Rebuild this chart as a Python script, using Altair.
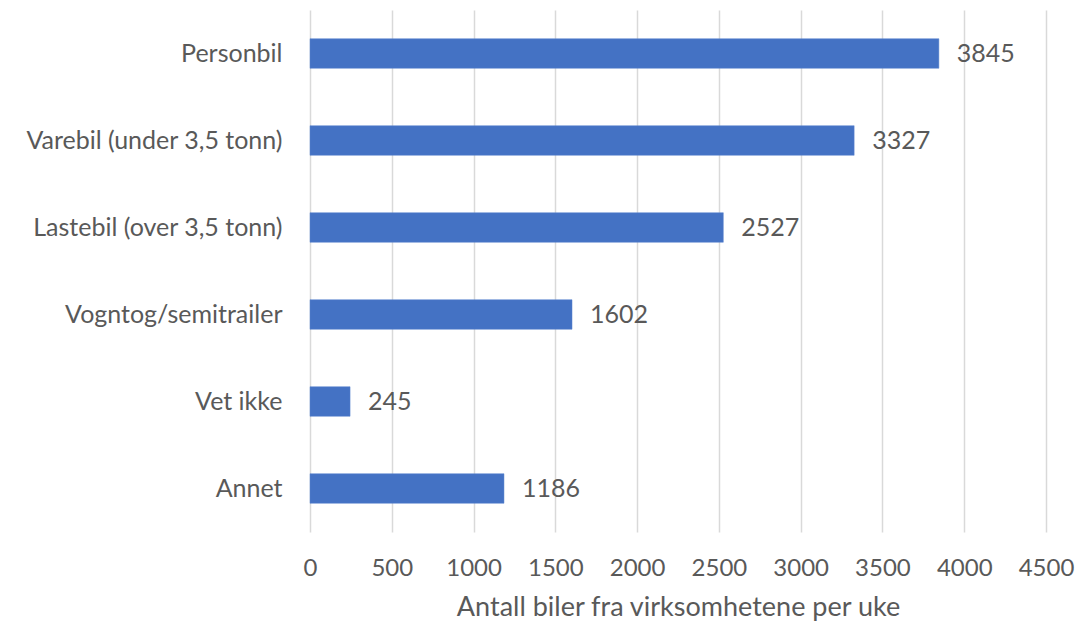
import altair as alt
import pandas as pd

categories = ["Personbil", "Varebil (under 3,5 tonn)", "Lastebil (over 3,5 tonn)",
              "Vogntog/semitrailer", "Vet ikke", "Annet"]
values = [3845, 3327, 2527, 1602, 245, 1186]
x_ticks = [0, 500, 1000, 1500, 2000, 2500, 3000, 3500, 4000, 4500]

df = pd.DataFrame({"kategori": categories, "antall": values})

FONT = "Lato"
TXT = "#595959"

y_enc = alt.Y("kategori:N", sort=categories, title=None,
              scale=alt.Scale(paddingInner=0.66, paddingOuter=0.33),
              axis=alt.Axis(labelFontSize=25, labelColor=TXT, labelFont=FONT,
                            labelPadding=28, ticks=False, domain=False, grid=False,
                            labelLimit=400))

bars = alt.Chart(df).mark_bar(color="#4472C4", stroke="#5b85cf", strokeWidth=0.5).encode(
    x=alt.X("antall:Q", scale=alt.Scale(domain=[0, 4500], nice=False),
            title="Antall biler fra virksomhetene per uke",
            axis=alt.Axis(values=x_ticks, format="d", labelFlush=False,
                          labelFontSize=24, labelColor=TXT, labelFont=FONT,
                          titleFontSize=27, titleColor=TXT, titleFont=FONT,
                          titleFontWeight="normal", labelPadding=24, titlePadding=14,
                          ticks=False, domain=False, grid=True, gridColor="#d9d9d9",
                          gridWidth=1.5)),
    y=y_enc,
)

labels = alt.Chart(df).mark_text(align="left", baseline="middle", dx=18, fontSize=25,
                                 color=TXT, font=FONT).encode(
    x="antall:Q",
    y=alt.Y("kategori:N", sort=categories),
    text="antall:Q",
)

chart = (bars + labels).properties(
    width=736, height=522,
    background="white",
    autosize=alt.AutoSizeParams(type="none"),
    padding={"left": 310, "top": 10, "right": 35, "bottom": 98},
).configure_view(stroke=None)

chart.save("out.html", embed_options={"renderer": "svg", "actions": False})
